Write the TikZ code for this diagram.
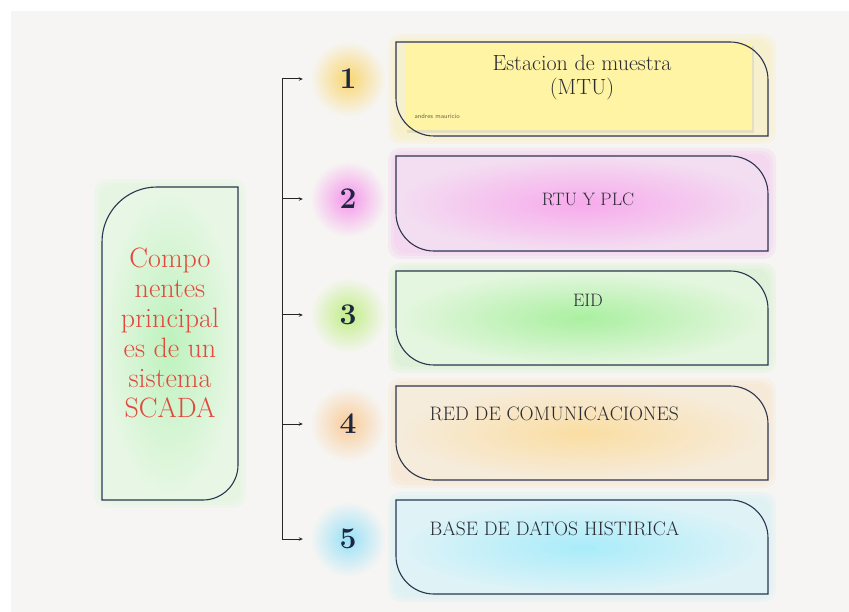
\documentclass[tikz,border=0pt]{standalone}
\usetikzlibrary{arrows.meta}

\definecolor{bgc}{HTML}{F6F5F3}
\definecolor{linec}{HTML}{2C3650}
\definecolor{numc}{HTML}{1D2742}
\definecolor{titlec}{HTML}{2A2A33}
\definecolor{redc}{HTML}{E2483D}
\definecolor{signc}{HTML}{6B6652}
% left panel
\definecolor{lefthalo}{HTML}{D8F5D4}
\definecolor{leftin}{HTML}{BDF2BD}
\definecolor{leftout}{HTML}{E8F7E5}
% number glows
\definecolor{g1}{HTML}{F9D670}
\definecolor{g2}{HTML}{F595EA}
\definecolor{g3}{HTML}{C0EE84}
\definecolor{g4}{HTML}{F9CC98}
\definecolor{g5}{HTML}{98E1F7}
% cards
\definecolor{h1}{HTML}{F8EDB0}
\definecolor{sticky}{HTML}{FFF4A3}
\definecolor{h2}{HTML}{F4C0EE}
\definecolor{in2}{HTML}{F7AAEC}
\definecolor{out2}{HTML}{F3DEF1}
\definecolor{h3}{HTML}{CDF2C4}
\definecolor{in3}{HTML}{AAF0A0}
\definecolor{out3}{HTML}{E5F6E0}
\definecolor{h4}{HTML}{F6E0C0}
\definecolor{in4}{HTML}{FADDA2}
\definecolor{out4}{HTML}{F6ECDC}
\definecolor{h5}{HTML}{CDEFF7}
\definecolor{in5}{HTML}{A9ECFA}
\definecolor{out5}{HTML}{DFF3F7}

% card outline: sharp top left / bottom right, rounded top right / bottom left
\newcommand{\cardpath}[5]{(#1,#2) -- ({#3-#5},#2) .. controls ({#3-0.448*#5},#2) and (#3,{#2+0.448*#5}) .. (#3,{#2+#5}) -- (#3,#4) -- ({#1+#5},#4) .. controls ({#1+0.448*#5},#4) and (#1,{#4-0.448*#5}) .. (#1,{#4-#5}) -- cycle}

\tikzset{
  edgeline/.style={draw=linec, line width=1.1pt},
  halo/.style={fill=#1, opacity=0.22, rounded corners=12pt},
  numnode/.style={circle, minimum size=40pt, inner sep=0pt, text=numc, font=\fontsize{30}{32}\selectfont\bfseries},
  cardtitle/.style={text=titlec, font=\fontsize{18}{20}\selectfont},
  cardtitlewide/.style={text=titlec, font=\fontsize{19.5}{21}\selectfont, anchor=west},
  trunk/.style={line width=1pt, black!85},
  tick/.style={trunk, -{Stealth[length=4pt,width=3.5pt]}},
}

\begin{document}
\begin{tikzpicture}[x=1pt,y=-1pt]
\useasboundingbox (0,0) rectangle (849,612);
\fill[white] (0,0) rectangle (849,612);
\fill[bgc] (11,11) rectangle (849,612);

% left panel
\foreach \d in {8,5,2} {\path[halo=lefthalo] ({102-\d},{187-\d}) rectangle ({238+\d},{500+\d});}
\draw[edgeline, inner color=leftin, outer color=leftout] (102,242) .. controls (102,211.6) and (126.6,187) .. (157,187) -- (238,187) -- (238,465) .. controls (238,484.3) and (222.3,500) .. (203,500) -- (102,500) -- cycle;
\node[align=center, text=redc, font=\fontsize{28}{30}\selectfont] (panel) at (170,333) {Compo\\nentes\\principal\\es de un\\sistema\\SCADA};

% number glows and trunk points
\foreach \i/\y/\gc in {1/79/g1,2/199/g2,3/315/g3,4/424/g4,5/539/g5} {
  \shade[inner color=\gc, outer color=bgc] (348,\y) circle (38);
  \coordinate (t\i) at (282,\y);
}

% card 1 (sticky note)
\foreach \d in {8,5,2} {\path[halo=h1] ({396-\d},{42-\d}) rectangle ({768+\d},{136+\d});}
\fill[black, opacity=0.07] (407,46) rectangle (754,133);
\fill[sticky] (405,43) rectangle (752,130);
\draw[edgeline] \cardpath{396}{42}{768}{136}{38};

% cards 2-5
\foreach \i/\yt/\yb/\hc/\ic/\oc in {2/156/251/h2/in2/out2,3/271/365/h3/in3/out3,4/386/480/h4/in4/out4,5/500/594/h5/in5/out5} {
  \foreach \d in {8,5,2} {\path[halo=\hc] ({396-\d},{\yt-\d}) rectangle ({768+\d},{\yb+\d});}
  \draw[edgeline, inner color=\ic, outer color=\oc] \cardpath{396}{\yt}{768}{\yb}{38};
}

% texts
\node[text=titlec, font=\fontsize{22}{24}\selectfont] (b1a) at (582,63) {Estacion de muestra};
\node[text=titlec, font=\fontsize{22}{24}\selectfont] (b1b) at (582,89) {(MTU)};
\node[anchor=west, text=signc, font=\sffamily\fontsize{6.5}{7}\selectfont] (sign) at (411,116) {andres mauricio};
\node[cardtitle] (b2) at (588,199) {RTU Y PLC};
\node[cardtitle] (b3) at (588,300) {EID};
\node[cardtitlewide] (b4) at (426,414) {RED DE COMUNICACIONES};
\node[cardtitlewide] (b5) at (426,529) {BASE DE DATOS HISTIRICA};

% numbers and connectors
\foreach \i/\y in {1/79,2/199,3/315,4/424,5/539} {
  \node[numnode] (n\i) at (348,\y) {\i};
}
\draw[trunk] (t1) -- (t5);
\foreach \i in {1,...,5} {\draw[tick, shorten >=25pt] (t\i) -- (n\i);}
\end{tikzpicture}
\end{document}
